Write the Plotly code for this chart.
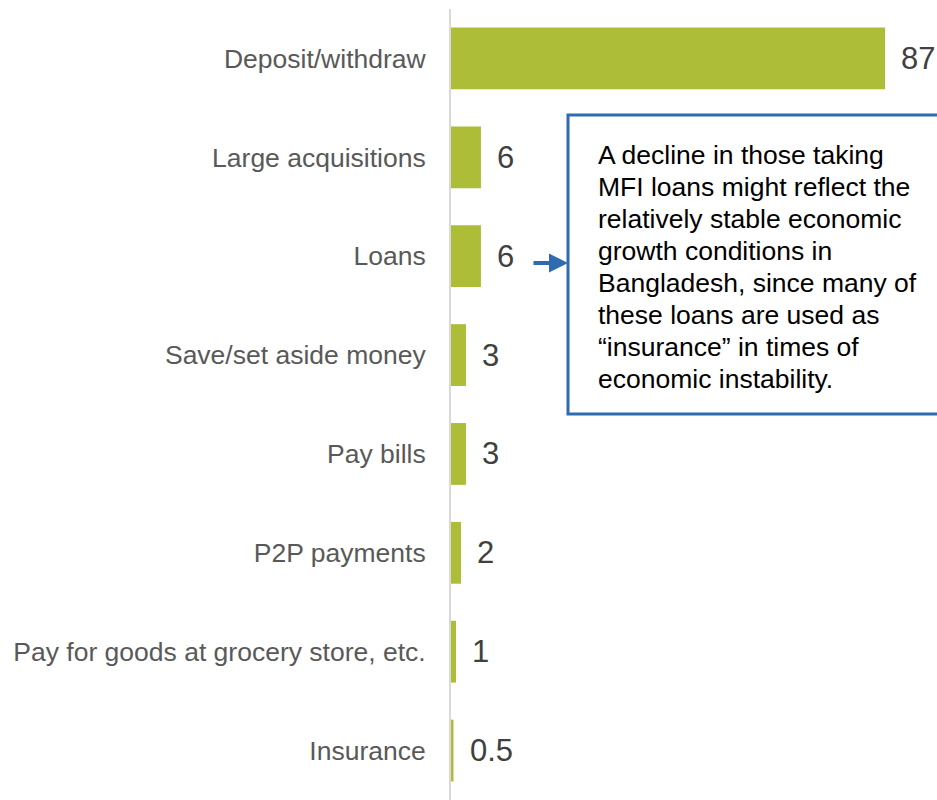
import plotly.graph_objects as go

# Uses of mobile money accounts (% of users)
categories = [
    "Deposit/withdraw",
    "Large acquisitions",
    "Loans",
    "Save/set aside money",
    "Pay bills",
    "P2P payments",
    "Pay for goods at grocery store, etc.",
    "Insurance",
]
values = [87, 6, 6, 3, 3, 2, 1, 0.5]
value_labels = ["87", "6", "6", "3", "3", "2", "1", "0.5"]

note_lines = [
    "A decline in those taking",
    "MFI loans might reflect the",
    "relatively stable economic",
    "growth conditions in",
    "Bangladesh, since many of",
    "these loans are used as",
    "\u201cinsurance\u201d in times of",
    "economic instability.",
]

BAR_COLOR = "#adbd38"
NOTE_BLUE = "#2e6bb1"
FONT = "Liberation Sans, Arial, sans-serif"

W, H = 937, 800
ML, MT = 451, 9
plot_w = W - ML
plot_h = H - MT


def px_to_paper_x(px):
    return (px - ML) / plot_w


def px_to_paper_y(py):
    return (H - py) / plot_h


fig = go.Figure(
    go.Bar(
        x=values,
        y=categories,
        orientation="h",
        marker=dict(color=BAR_COLOR, line=dict(width=0)),
        hoverinfo="skip",
    )
)

# value labels just past the end of each bar
annotations = []
for cat, val, lab in zip(categories, values, value_labels):
    annotations.append(
        dict(
            x=val, y=cat, xref="x", yref="y",
            text=lab, showarrow=False,
            xanchor="left", yanchor="middle", xshift=14,
            font=dict(family=FONT, size=31, color="#404040"),
        )
    )

# commentary box text, one annotation per line for tight leading
for i, line in enumerate(note_lines):
    annotations.append(
        dict(
            x=px_to_paper_x(596), y=px_to_paper_y(155 + 32.0 * i),
            xref="paper", yref="paper",
            text=line, showarrow=False,
            xanchor="left", yanchor="middle", align="left",
            font=dict(family=FONT, size=26.5, color="#000000"),
        )
    )

# arrow pointing from the Loans value to the box
annotations.append(
    dict(
        x=px_to_paper_x(568), y=px_to_paper_y(263),
        xref="paper", yref="paper",
        ax=-36, ay=0,
        text="", showarrow=True,
        arrowhead=2, arrowsize=0.95, arrowwidth=4, arrowcolor=NOTE_BLUE,
        standoff=0, startstandoff=0,
    )
)

fig.update_layout(
    width=W, height=H,
    margin=dict(l=ML, r=0, t=MT, b=0),
    paper_bgcolor="white", plot_bgcolor="white",
    bargap=0.375,
    showlegend=False,
    annotations=annotations,
    shapes=[
        dict(
            type="rect", xref="paper", yref="paper",
            x0=px_to_paper_x(568), x1=1.2,
            y0=px_to_paper_y(414), y1=px_to_paper_y(115),
            line=dict(color=NOTE_BLUE, width=3),
            fillcolor="rgba(0,0,0,0)",
        )
    ],
    xaxis=dict(
        range=[0, plot_w / 4.99],
        visible=False, showgrid=False, zeroline=False, fixedrange=True,
    ),
    yaxis=dict(
        autorange="reversed",
        showgrid=False, zeroline=False,
        showline=True, linecolor="#d9d9d9", linewidth=2,
        ticks="", ticklabelstandoff=18,
        tickfont=dict(family=FONT, size=26.5, color="#595959"),
        fixedrange=True,
    ),
    font=dict(family=FONT),
)

fig.write_html("out.html")
